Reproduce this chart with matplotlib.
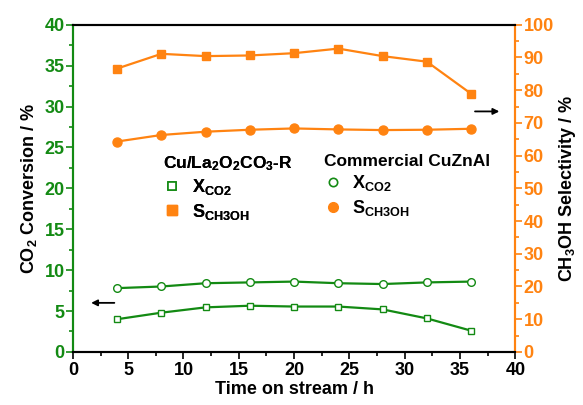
import numpy as np
import matplotlib
matplotlib.use("Agg")
import matplotlib.pyplot as plt
from matplotlib.lines import Line2D
from matplotlib.ticker import MultipleLocator

plt.rcParams['font.family'] = ['Liberation Sans', 'DejaVu Sans']
plt.rcParams['font.weight'] = 'bold'
plt.rcParams['axes.labelweight'] = 'bold'
plt.rcParams['mathtext.fontset'] = 'custom'
plt.rcParams['mathtext.rm'] = 'Liberation Sans:bold'
plt.rcParams['mathtext.it'] = 'Liberation Sans:bold'
plt.rcParams['mathtext.bf'] = 'Liberation Sans:bold'
plt.rcParams['mathtext.default'] = 'bf'

# time on stream (h)
tos = [4, 8, 12, 16, 20, 24, 28, 32, 36]
# Cu/La2O2CO3-R
x_co2_la = [4.0, 4.8, 5.45, 5.65, 5.55, 5.55, 5.2, 4.1, 2.6]
s_meoh_la = [86.6, 91.1, 90.4, 90.6, 91.3, 92.7, 90.4, 88.7, 78.9]
# commercial CuZnAl
x_co2_cza = [7.8, 8.0, 8.4, 8.5, 8.6, 8.4, 8.3, 8.5, 8.6]
s_meoh_cza = [64.3, 66.3, 67.3, 67.9, 68.3, 68.0, 67.8, 67.9, 68.2]

# tick values
x_ticks = list(range(0, 41, 5))
y_ticks = list(range(0, 41, 5))
y2_ticks = list(range(0, 101, 10))

green = '#138a13'
orange = '#ff8311'

fig = plt.figure(figsize=(5.83, 4.05), dpi=100)
ax = fig.add_axes([0.125, 0.131, 0.759, 0.808])
ax2 = ax.twinx()

ax.plot(tos, x_co2_la, color=green, lw=1.6, marker='s', ms=5, mfc='white', mec=green, mew=1.0)
ax.plot(tos, x_co2_cza, color=green, lw=1.6, marker='o', ms=5.5, mfc='white', mec=green, mew=1.0)
ax2.plot(tos, s_meoh_la, color=orange, lw=1.6, marker='s', ms=6, mfc=orange, mec=orange)
ax2.plot(tos, s_meoh_cza, color=orange, lw=1.6, marker='o', ms=6.5, mfc=orange, mec=orange)

ax.set_xlim(0, 40)
ax.set_ylim(0, 40)
ax2.set_ylim(0, 100)

ax.set_xticks(x_ticks, [str(t) for t in x_ticks], fontweight='bold', fontsize=13)
ax.set_yticks(y_ticks, [str(t) for t in y_ticks], fontweight='bold', fontsize=13)
ax2.set_yticks(y2_ticks, [str(t) for t in y2_ticks], fontweight='bold', fontsize=13)
ax.xaxis.set_minor_locator(MultipleLocator(2.5))
ax.yaxis.set_minor_locator(MultipleLocator(2.5))
ax2.yaxis.set_minor_locator(MultipleLocator(5))

ax.tick_params(axis='x', which='major', direction='out', length=5, width=1.2, pad=2)
ax.tick_params(axis='x', which='minor', direction='out', length=3, width=1.2)
ax.tick_params(axis='y', which='major', direction='out', length=5, width=1.2, colors=green, pad=1)
ax.tick_params(axis='y', which='minor', direction='out', length=3, width=1.2, colors=green)
ax2.tick_params(axis='y', which='major', direction='out', length=5, width=1.2, colors=orange, pad=1)
ax2.tick_params(axis='y', which='minor', direction='out', length=3, width=1.2, colors=orange)

for a in (ax, ax2):
    for s in a.spines.values():
        s.set_linewidth(1.5)
ax.spines['left'].set_color(green)
ax2.spines['left'].set_color(green)
ax2.spines['right'].set_color(orange)
ax.spines['right'].set_color(orange)

ax.set_xlabel('Time on stream / h', fontsize=13, fontweight='bold', labelpad=2)
ax.set_ylabel(r'CO$_2$ Conversion / %', fontsize=13, fontweight='bold', labelpad=4)
ax2.set_ylabel(r'CH$_3$OH Selectivity / %', fontsize=13, fontweight='bold', labelpad=2)

# arrows pointing to each axis
ax.annotate('', xy=(1.4, 6.0), xytext=(4.0, 6.0),
            arrowprops=dict(arrowstyle='-|>', color='black', lw=1.3, mutation_scale=9))
ax.annotate('', xy=(38.8, 29.4), xytext=(36.1, 29.4),
            arrowprops=dict(arrowstyle='-|>', color='black', lw=1.3, mutation_scale=9))

# legends
h_la = [Line2D([], [], ls='none', marker='s', ms=6, mfc='white', mec=green, mew=1.2),
        Line2D([], [], ls='none', marker='s', ms=7, mfc=orange, mec=orange)]
h_cza = [Line2D([], [], ls='none', marker='o', ms=6, mfc='white', mec=green, mew=1.2),
         Line2D([], [], ls='none', marker='o', ms=7, mfc=orange, mec=orange)]
labels = [r'X$_{\mathbf{CO2}}$', r'S$_{\mathbf{CH3OH}}$']

leg_kw = dict(loc='upper left', frameon=False,
              prop={'weight': 'bold', 'size': 13},
              title_fontproperties={'weight': 'bold', 'size': 12.5},
              alignment='left', handletextpad=0.6, labelspacing=0.25,
              handlelength=1.0, borderpad=0, borderaxespad=0)
leg1 = fig.legend(h_la, labels, title=r'Cu/La$_2$O$_2$CO$_3$-R',
                  bbox_to_anchor=(0.28, 0.62), **leg_kw)
leg2 = fig.legend(h_cza, labels, title='Commercial CuZnAl',
                  bbox_to_anchor=(0.555, 0.62), **leg_kw)
fig.add_artist(leg1)

fig.savefig('out.png', dpi=100)
